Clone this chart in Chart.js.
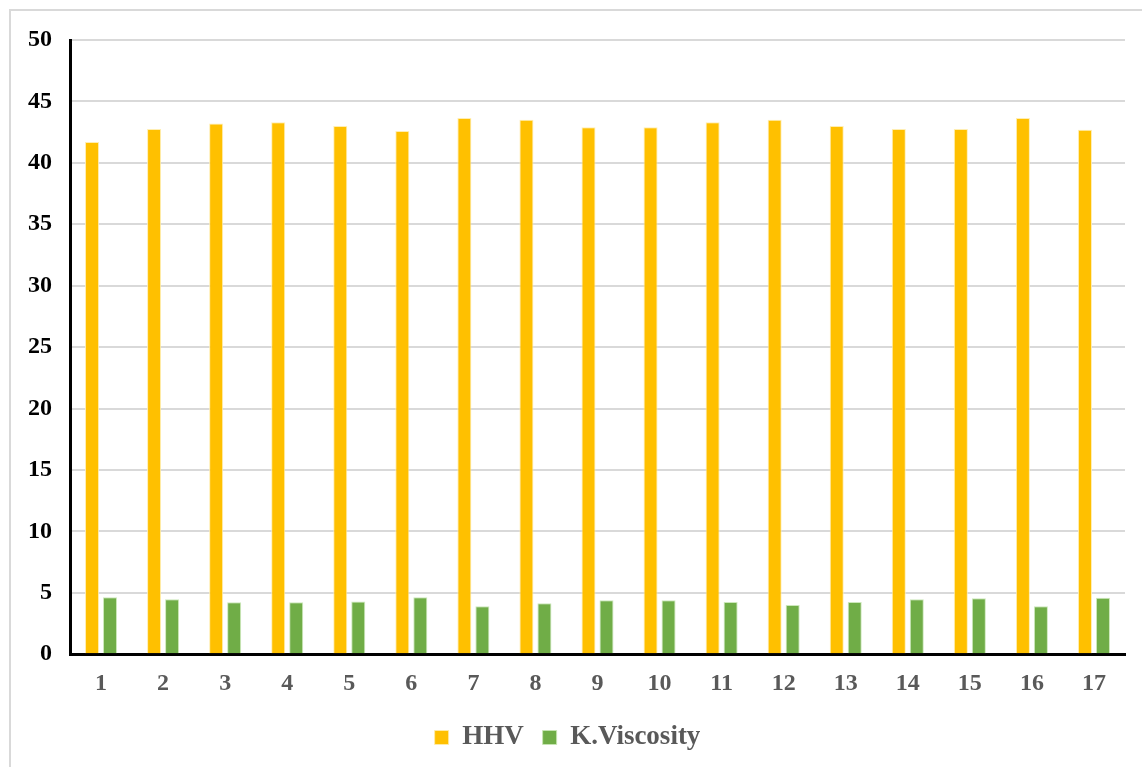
<!DOCTYPE html>
<html>
<head>
<meta charset="utf-8">
<script src="https://cdn.jsdelivr.net/npm/chart.js@4/dist/chart.umd.min.js"></script>
<style>
  html, body { margin: 0; padding: 0; background: #fff; overflow: hidden; }
  #frame {
    position: absolute; left: 9px; top: 9px; width: 1150px; height: 780px;
    border: 2px solid #d9d9d9; box-sizing: border-box;
  }
  #wrap { position: absolute; left: 0; top: 0; width: 1142px; height: 767px; }
</style>
</head>
<body>
<div id="frame"></div>
<div id="wrap"><canvas id="grafica"></canvas></div>
<script>
const muestras = ['1', '2', '3', '4', '5', '6', '7', '8', '9', '10', '11', '12', '13', '14', '15', '16', '17'];
const hhv = [41.7, 42.75, 43.2, 43.3, 43.0, 42.6, 43.65, 43.5, 42.9, 42.9, 43.3, 43.5, 43.0, 42.75, 42.75, 43.65, 42.7];
const viscosidad = [4.64, 4.48, 4.23, 4.23, 4.3, 4.64, 3.9, 4.15, 4.4, 4.4, 4.25, 4.0, 4.25, 4.48, 4.56, 3.9, 4.6];
const marcasY = [0, 5, 10, 15, 20, 25, 30, 35, 40, 45, 50];

const fuente = '"Liberation Serif", "Times New Roman", serif';

const ctx = document.getElementById('grafica').getContext('2d');

new Chart(ctx, {
    type: 'bar',
    data: {
        labels: muestras,
        datasets: [{
            label: 'HHV',
            data: hhv,
            backgroundColor: '#FFC000',
            borderColor: 'rgba(255, 236, 170, 0.9)',
            borderWidth: 1,
            categoryPercentage: 0.58,
            barPercentage: 0.78
        }, {
            label: 'K.Viscosity',
            data: viscosidad,
            backgroundColor: '#70AD47',
            borderColor: 'rgba(200, 230, 180, 0.9)',
            borderWidth: 1,
            categoryPercentage: 0.58,
            barPercentage: 0.78
        }]
    },
    options: {
        responsive: true,
        maintainAspectRatio: false,
        animation: false,
        layout: {
            padding: { left: 10, right: 17, top: 40, bottom: 6 }
        },
        plugins: {
            tooltip: { enabled: false },
            legend: {
                position: 'bottom',
                labels: {
                    color: '#595959',
                    boxWidth: 14,
                    boxHeight: 14,
                    padding: 19,
                    font: { family: fuente, size: 27, weight: 'bold' }
                }
            }
        },
        scales: {
            x: {
                grid: { display: false },
                border: { display: true, color: '#000', width: 3 },
                ticks: {
                    color: '#595959',
                    padding: 7,
                    font: { family: fuente, size: 24, weight: 'bold' }
                }
            },
            y: {
                min: 0,
                max: 50,
                afterBuildTicks: function(escala) {
                    escala.ticks = marcasY.map(v => ({ value: v }));
                },
                grid: { color: '#d9d9d9', lineWidth: 2, drawTicks: false },
                border: { display: true, color: '#000', width: 3 },
                ticks: {
                    color: '#000',
                    padding: 18,
                    font: { family: fuente, size: 24, weight: 'bold' }
                }
            }
        }
    }
});
</script>
</body>
</html>
